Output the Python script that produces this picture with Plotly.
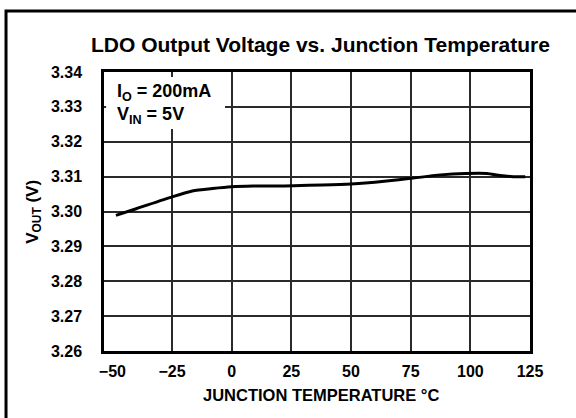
import plotly.graph_objects as go

# Data
temperature_c = [-48.5, -40, -25, -16.5, -8, 0, 9, 18, 26, 38, 50, 60, 70, 75, 87.5, 98, 107, 112.5, 118, 123]
vout_v = [3.2989, 3.3008, 3.3042, 3.3059, 3.3066, 3.3071, 3.3073, 3.3073, 3.3074, 3.3076,
          3.3079, 3.3084, 3.3091, 3.3095, 3.3105, 3.3109, 3.3109, 3.3103, 3.3100, 3.3100]

x_tick_vals = [-50, -25, 0, 25, 50, 75, 100, 125]
x_grid_vals = [-25, 0, 25, 50, 75, 100]
y_tick_vals = [3.26, 3.27, 3.28, 3.29, 3.30, 3.31, 3.32, 3.33, 3.34]
y_tick_text = ["3.26", "3.27", "3.28", "3.29", "3.30", "3.31", "3.32", "3.33", "3.34"]

FONT = "Liberation Sans, Arial, Helvetica, sans-serif"
GRID = "#2a2a2a"

fig = go.Figure()
fig.add_trace(go.Scatter(
    x=temperature_c, y=vout_v, mode="lines",
    line=dict(color="black", width=3, shape="spline", smoothing=0.6),
    showlegend=False, hoverinfo="skip",
))

fig.update_layout(
    width=576, height=418,
    margin=dict(l=104, r=46, t=72, b=67),
    paper_bgcolor="white", plot_bgcolor="white",
    font=dict(family=FONT, color="black"),
    xaxis=dict(
        range=[-53.5, 125], tickvals=x_tick_vals,
        showgrid=False, zeroline=False,
        showline=True, linecolor="black", linewidth=2.5, mirror=True,
        ticks="", ticklabelstandoff=4,
        tickfont=dict(family=FONT, size=16, weight="bold", color="black"),
    ),
    xaxis2=dict(
        range=[-53.5, 125], overlaying="x", matches="x", tickvals=x_grid_vals,
        showgrid=True, gridcolor=GRID, gridwidth=1.5, zeroline=False,
        showticklabels=False, ticks="", showline=False,
    ),
    yaxis=dict(
        range=[3.26, 3.34], tickvals=y_tick_vals, ticktext=y_tick_text,
        showgrid=True, gridcolor=GRID, gridwidth=1.5, zeroline=False,
        showline=True, linecolor="black", linewidth=2.5, mirror=True,
        ticks="", ticklabelstandoff=16,
        tickfont=dict(family=FONT, size=16, weight="bold", color="black"),
    ),
)

# invisible helper trace so the grid-only overlay axis is drawn
fig.add_trace(go.Scatter(x=[temperature_c[0]], y=[vout_v[0]], xaxis="x2", mode="markers",
                         marker=dict(opacity=0), showlegend=False, hoverinfo="skip"))

shapes = [
    # outer frame
    dict(type="rect", xref="paper", yref="paper", x0=-0.230, x1=1.3, y0=-0.35, y1=1.2186,
         line=dict(color="black", width=3), fillcolor="rgba(0,0,0,0)", layer="above"),
    # white box behind the condition text (covers gridlines, not the frame)
    dict(type="rect", xref="paper", yref="paper", x0=0.005, x1=0.284, y0=0.796, y1=0.982,
         line=dict(width=0), fillcolor="white", layer="above"),
]
fig.update_layout(shapes=shapes)

annotations = [
    dict(text="LDO Output Voltage vs. Junction Temperature", xref="paper", yref="paper",
         x=0.509, y=1.097, xanchor="center", yanchor="middle", showarrow=False,
         font=dict(family=FONT, size=21, weight="bold", color="black")),
    dict(text="JUNCTION TEMPERATURE °C", xref="paper", yref="paper",
         x=0.509, y=-0.158, xanchor="center", yanchor="middle", showarrow=False,
         font=dict(family=FONT, size=16.5, weight="bold", color="black")),
    dict(text="V<sub>OUT</sub> (V)", xref="paper", yref="paper",
         x=-0.166, y=0.5, xanchor="center", yanchor="middle", showarrow=False, textangle=-90,
         font=dict(family=FONT, size=17, weight="bold", color="black")),
    dict(text="I<sub>O</sub> = 200mA<br>V<sub>IN</sub> = 5V", xref="paper", yref="paper",
         x=0.026, y=0.884, xanchor="left", yanchor="middle", align="left", showarrow=False,
         font=dict(family=FONT, size=18, weight="bold", color="black")),
]
fig.update_layout(annotations=annotations)

fig.write_html("out.html", config={"displayModeBar": False},
               post_script="document.body.style.margin='0';document.body.style.overflow='hidden';")
